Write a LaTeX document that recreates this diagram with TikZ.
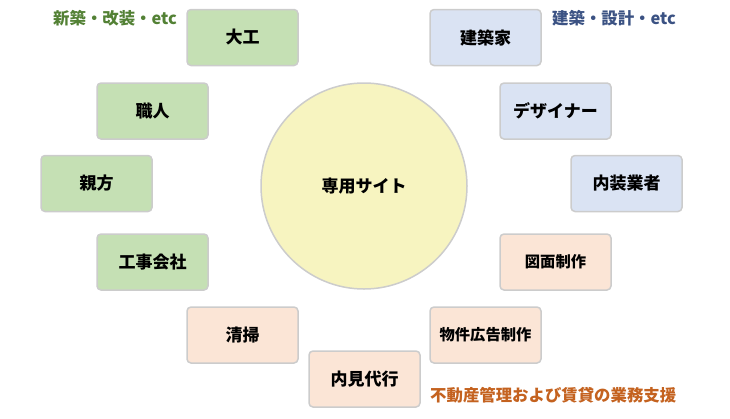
\documentclass[tikz,border=0pt]{standalone}
\usepackage{fontspec}
\setmainfont{Noto Sans CJK JP}
\usetikzlibrary{shapes}

\definecolor{grfill}{HTML}{C5E0B4}
\definecolor{blfill}{HTML}{DAE3F3}
\definecolor{orfill}{HTML}{FBE5D6}
\definecolor{yefill}{HTML}{F7F4C0}
\definecolor{edge}{HTML}{CCCCCC}
\definecolor{grtext}{HTML}{538135}
\definecolor{bltext}{HTML}{3B5283}
\definecolor{ortext}{HTML}{C4621F}

\begin{document}
\begin{tikzpicture}[x=1pt,y=-1pt,
every node/.style={font=\fontsize{17}{19}\selectfont\bfseries},
job/.style={rectangle,rounded corners=4pt,draw=edge,line width=1.5pt,
  minimum width=111pt,minimum height=56pt,inner sep=0pt},
gr/.style={job,fill=grfill},
bl/.style={job,fill=blfill},
or/.style={job,fill=orfill},
tag/.style={font=\fontsize{16.4}{19}\selectfont\bfseries}]

\useasboundingbox (0,0) rectangle (730,418);

\node[circle,draw=edge,line width=1.5pt,fill=yefill,minimum size=206pt] (site) at (364,186) {専用サイト};

\node[gr] (daiku) at (242.5,37.5) {大工};
\node[gr] (shokunin) at (152.5,111) {職人};
\node[gr] (oyakata) at (96.5,183.5) {親方};
\node[gr] (koji) at (152.5,262) {工事会社};

\node[bl] (kenchiku) at (485.5,37.5) {建築家};
\node[bl] (design) at (555.5,111) {デザイナー};
\node[bl] (naiso) at (626.5,183.5) {内装業者};

\node[or,font=\fontsize{15.3}{18}\selectfont\bfseries] (zumen) at (555.5,262) {図面制作};
\node[or,font=\fontsize{15.3}{18}\selectfont\bfseries] (bukken) at (485.5,335) {物件広告制作};
\node[or] (naiken) at (364.5,379) {内見代行};
\node[or] (seiso) at (242.5,335) {清掃};

\node[tag,text=grtext,anchor=west,inner sep=0pt] (tgr) at (53,18) {新築・改装・etc};
\node[tag,text=bltext,anchor=west,inner sep=0pt] (tbl) at (552,18) {建築・設計・etc};
\node[tag,text=ortext,anchor=west,inner sep=0pt] (tor) at (430,395) {不動産管理および賃貸の業務支援};
\end{tikzpicture}
\end{document}
